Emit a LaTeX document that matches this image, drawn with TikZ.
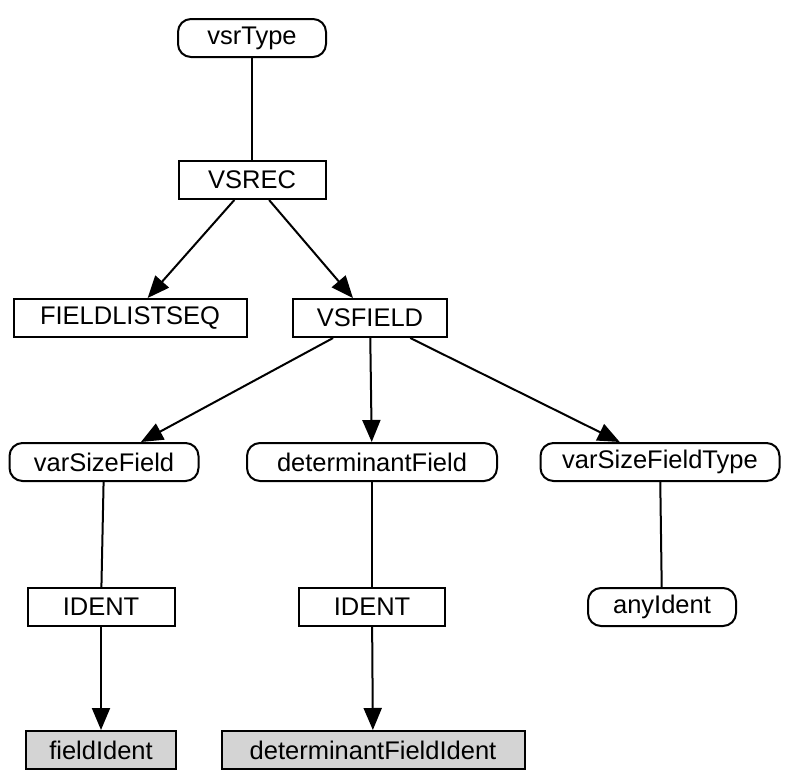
\documentclass[tikz,border=0pt]{standalone}
\usepackage{fontspec}
\setmainfont{Liberation Sans}
\usetikzlibrary{arrows.meta}

\tikzset{
  base/.style={draw, line width=2pt, minimum height=38pt, font=\fontsize{25.5}{29}\selectfont, inner sep=0pt},
  rnd/.style={base, rounded corners=13pt},
  sq/.style={base},
  leaf/.style={base, fill=black!17},
  arr/.style={line width=2pt, -{Triangle[length=22pt,width=18pt]}},
  ln/.style={line width=2pt},
}

\begin{document}
\begin{tikzpicture}[x=1pt, y=-1pt]
        \useasboundingbox (0,0) rectangle (785,779);
        \node[rnd, minimum width=148pt] (vsrType) at (252,38) {vsrType};
        \node[sq, minimum width=147pt] (vsrec) at (252,180) {VSREC};
        \node[sq, minimum width=233pt] (fieldListSeq) at (130,318) {FIELDLISTSEQ};
        \node[sq, minimum width=154pt] (vsField) at (370,318) {VSFIELD};
        \node[rnd, minimum width=189pt] (varSizeField) at (104,462) {varSizeField};
        \node[rnd, minimum width=250pt] (detField) at (372,462) {determinantField};
        \node[rnd, minimum width=239pt] (varSizeFieldType) at (660,462) {varSizeFieldType};
        \node[sq, minimum width=147pt] (identA) at (101,607) {IDENT};
        \node[sq, minimum width=146pt] (identB) at (372,607) {IDENT};
        \node[rnd, minimum width=148pt] (anyIdent) at (662,607) {anyIdent};
        \node[leaf, minimum width=150pt] (fieldIdent) at (101,750) {fieldIdent};
        \node[leaf, minimum width=303pt] (detFieldIdent) at (373,750) {determinantFieldIdent};
        \draw[ln] (vsrType) -- (vsrec);
        \draw[arr] (vsrec) -- (fieldListSeq);
        \draw[arr] (vsrec) -- (vsField);
        \draw[arr] (vsField) -- (varSizeField);
        \draw[arr] (vsField) -- (detField);
        \draw[arr] (vsField) -- (varSizeFieldType);
        \draw[ln] (varSizeField) -- (identA);
        \draw[ln] (detField) -- (identB);
        \draw[ln] (varSizeFieldType) -- (anyIdent);
        \draw[arr] (identA) -- (fieldIdent);
        \draw[arr] (identB) -- (detFieldIdent);
      \end{tikzpicture}
\end{document}
